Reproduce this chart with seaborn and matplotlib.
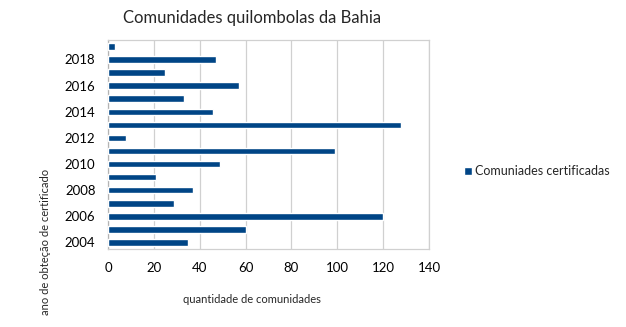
import matplotlib
matplotlib.use("Agg")
import matplotlib.pyplot as plt
import seaborn as sns
import pandas as pd

years = [2004, 2005, 2006, 2007, 2008, 2009, 2010, 2011, 2012, 2013, 2014, 2015, 2016, 2017, 2018, 2019]
values = [35, 60, 120, 29, 37, 21, 49, 99, 8, 128, 46, 33, 57, 25, 47, 3]
series_name = "Comuniades certificadas"
title = "Comunidades quilombolas da Bahia"
xlabel = "quantidade de comunidades"
ylabel = "ano de obteção de certificado"

sns.set_style("white")
plt.rcParams['font.family'] = ['Lato', 'DejaVu Sans']

df = pd.DataFrame({"ano": years, "qtd": values, "serie": series_name})

fig = plt.figure(figsize=(6.26, 3.27), dpi=100)
ax = fig.add_axes([0.1725, 0.2385, 0.5128, 0.6395])
color = "#004586"
sns.barplot(data=df, x="qtd", y="ano", hue="serie", orient="h", native_scale=True,
            palette=[color], saturation=1, width=0.5, ax=ax, legend=False, zorder=3)

ax.set_xlim(0, 140)
ax.set_xticks(range(0, 141, 20))
ax.set_ylim(2003.5, 2019.5)
ax.set_yticks(range(2004, 2019, 2))
ax.set_yticklabels([str(y) for y in range(2004, 2019, 2)])
ax.grid(axis="x", color="#d0d0d0", linewidth=0.9, zorder=0)
ax.grid(axis="y", visible=False)
for s in ax.spines.values():
    s.set_color("#d0d0d0")
    s.set_linewidth(0.9)
ax.spines["left"].set_color("#b3b3b3")
ax.tick_params(axis="both", labelsize=9.5, colors="#000000", length=0, pad=9)
ax.set_xlabel("")
ax.set_ylabel("")

fig.text(0.403, 0.945, title, ha="center", va="center", fontsize=12)
fig.text(0.403, 0.083, xlabel, ha="center", va="center", fontsize=8)
fig.text(0.072, 0.26, ylabel, ha="center", va="center", fontsize=8, rotation=90)

from matplotlib.patches import Patch
fig.legend(handles=[Patch(facecolor=color, label=series_name)], loc="center left",
           bbox_to_anchor=(0.724, 0.477), frameon=False, fontsize=9,
           handlelength=0.6, handleheight=0.6, handletextpad=0.25)

fig.savefig("out.png", dpi=100)
